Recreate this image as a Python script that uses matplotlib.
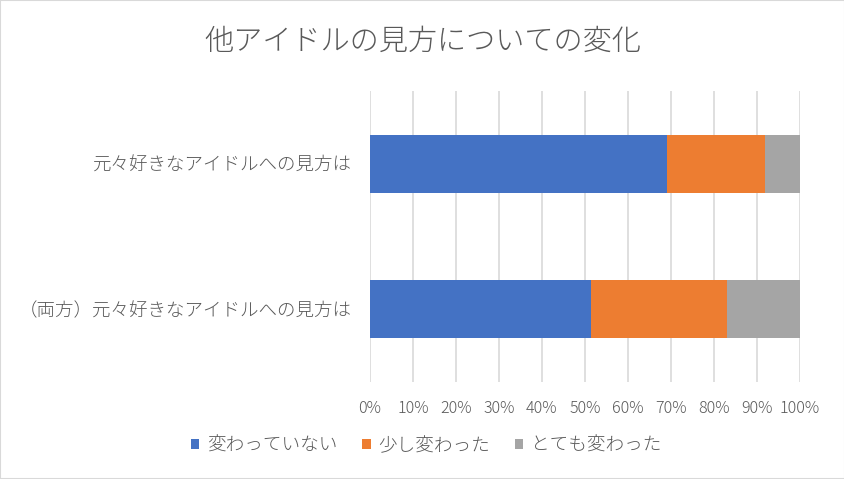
import matplotlib
matplotlib.use('Agg')
import matplotlib.pyplot as plt
from matplotlib.patches import Rectangle

plt.rcParams['font.family'] = ['Noto Sans CJK JP', 'DejaVu Sans']

categories = ['元々好きなアイドルへの見方は', '（両方）元々好きなアイドルへの見方は']
series_names = ['変わっていない', '少し変わった', 'とても変わった']
not_changed = [69.1, 51.4]
little_changed = [22.8, 31.6]
very_changed = [8.1, 17.0]
colors = ['#4472C4', '#ED7D31', '#A5A5A5']
tick_vals = list(range(0, 101, 10))
tick_labels = [f'{v}%' for v in tick_vals]

txt = '#595959'
W, H = 845, 479
fig = plt.figure(figsize=(W / 100, H / 100), dpi=100)
fig.patches.append(Rectangle((0, 0), 1, 1, transform=fig.transFigure,
                             fill=False, edgecolor='#d9d9d9', linewidth=1.5))

ax = fig.add_axes([370 / W, 1 - 381.5 / H, 430 / W, 290 / H])

ypos = [0, 1]
left = [0, 0]
for name, vals, c in zip(series_names, [not_changed, little_changed, very_changed], colors):
    ax.barh(ypos, vals, left=left, height=0.4, color=c, label=name, zorder=3)
    left = [l + v for l, v in zip(left, vals)]

ax.set_ylim(1.5, -0.5)
ax.set_xlim(0, 100)
ax.set_yticks(ypos)
ax.set_yticklabels(categories, fontsize=13.3, color=txt, fontweight='light')
ax.set_xticks(tick_vals)
ax.set_xticklabels(tick_labels, fontsize=11.5, color=txt, fontweight='light')
ax.tick_params(length=0, pad=13)
ax.tick_params(axis='y', pad=13)
ax.xaxis.grid(True, color='#d9d9d9', linewidth=1.2, zorder=0)
for s in ax.spines.values():
    s.set_visible(False)

fig.text(0.5, 1 - 42 / H, '他アイドルの見方についての変化', ha='center', va='center',
         fontsize=21, color=txt, fontweight='light')

handles, labels = ax.get_legend_handles_labels()
fig.legend(handles, labels, loc='center', bbox_to_anchor=(426 / W, 1 - 446 / H),
           ncol=3, frameon=False, prop={'size': 13.4, 'weight': 'light'}, labelcolor=txt,
           handlelength=0.45, handleheight=0.45, handletextpad=0.4, columnspacing=1.35)

plt.savefig('out.png', dpi=100)
